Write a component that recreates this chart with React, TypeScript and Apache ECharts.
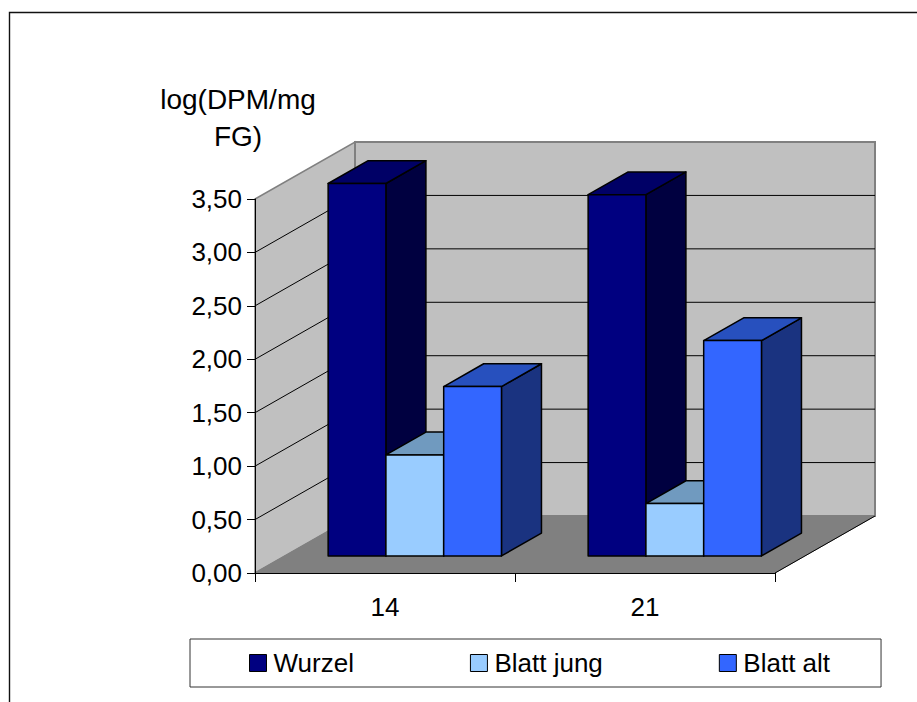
import React, { useEffect, useRef } from "react";
import * as echarts from "echarts";

const categories = ["14", "21"];
const wurzel = [3.485, 3.38];
const blattJung = [0.945, 0.49];
const blattAlt = [1.585, 2.015];
const yTicks = [0.5, 1, 1.5, 2, 2.5, 3];
const yAxisTitle = "log(DPM/mg\nFG)";

const FONT = "'Liberation Sans', Arial, sans-serif";
const FONT_SIZE = 26;
const DEPTH_X = 100;
const DEPTH_Y = -57;
const BAR_FRONT = 0.3;
const BAR_BACK = 0.7;

const barStyles = [
  { name: "Wurzel", values: wurzel, front: "#000080", top: "#000066", side: "#000040" },
  { name: "Blatt jung", values: blattJung, front: "#99CCFF", top: "#709ABF", side: "#4D6680" },
  { name: "Blatt alt", values: blattAlt, front: "#3366FF", top: "#2750BE", side: "#1A3380" },
];

const project = (p: number[], z: number) => [p[0] + DEPTH_X * z, p[1] + DEPTH_Y * z];

function wallsRender(params: any, api: any) {
  const cs = params.coordSys;
  const bl = [cs.x, cs.y + cs.height];
  const br = [cs.x + cs.width, cs.y + cs.height];
  const tl = [cs.x, cs.y];
  const tr = [cs.x + cs.width, cs.y];
  const wall = { fill: "#C0C0C0", stroke: "#808080", lineWidth: 1.5 };
  return {
    type: "group",
    children: [
      {
        type: "polygon",
        shape: { points: [bl, project(bl, 1), project(tl, 1), tl] },
        style: wall,
      },
      {
        type: "polygon",
        shape: { points: [project(bl, 1), project(br, 1), project(tr, 1), project(tl, 1)] },
        style: { ...wall, lineWidth: 2 },
      },
      {
        type: "polygon",
        shape: { points: [bl, br, project(br, 1), project(bl, 1)] },
        style: { fill: "#808080", stroke: "#808080", lineWidth: 1 },
      },
      {
        type: "line",
        shape: { x1: br[0], y1: br[1], x2: br[0] + DEPTH_X, y2: br[1] + DEPTH_Y },
        style: { stroke: "#000", lineWidth: 1 },
      },
    ],
  };
}

function gridRender(params: any, api: any) {
  const cs = params.coordSys;
  const y = api.coord([0, api.value(1)])[1];
  const a = [cs.x, y];
  const b = project(a, 1);
  const c = [b[0] + cs.width, b[1]];
  return {
    type: "polyline",
    shape: { points: [a, b, c] },
    style: { stroke: "#000", lineWidth: 1, fill: "none" },
  };
}

const makeBarRender = (seriesIndex: number) => (params: any, api: any) => {
  const cat = api.value(0);
  const val = api.value(1);
  const style = barStyles[seriesIndex];
  const band = api.size([1, 0])[0];
  const w = band / 4.5;
  const cx = api.coord([cat, 0])[0];
  const x0 = cx + (seriesIndex - 1.5) * w - 0.2;
  const x1 = x0 + w;
  const yBase = api.coord([cat, 0])[1];
  const yTop = api.coord([cat, val])[1];
  const fbl = project([x0, yBase], BAR_FRONT);
  const fbr = project([x1, yBase], BAR_FRONT);
  const ftl = project([x0, yTop], BAR_FRONT);
  const ftr = project([x1, yTop], BAR_FRONT);
  const btl = project([x0, yTop], BAR_BACK);
  const btr = project([x1, yTop], BAR_BACK);
  const bbr = project([x1, yBase], BAR_BACK);
  const edge = { stroke: "#000", lineWidth: 1.5, lineJoin: "round" };
  return {
    type: "group",
    children: [
      { type: "polygon", shape: { points: [fbr, bbr, btr, ftr] }, style: { fill: style.side, ...edge } },
      { type: "polygon", shape: { points: [ftl, ftr, btr, btl] }, style: { fill: style.top, ...edge } },
      { type: "polygon", shape: { points: [fbl, fbr, ftr, ftl] }, style: { fill: style.front, ...edge } },
    ],
  };
};

export default function App() {
  const ref = useRef<HTMLDivElement>(null);
  useEffect(() => {
    const chart = echarts.init(ref.current!, null, { renderer: "svg" });
    chart.setOption({
      animation: false,
      backgroundColor: "#FFFFFF",
      textStyle: { fontFamily: FONT },
      grid: { left: 255, top: 199, width: 520, height: 374 },
      graphic: [
        {
          type: "polyline",
          shape: { points: [[9.5, 702], [9.5, 12.5], [917, 12.5]] },
          style: { stroke: "#111", lineWidth: 1.4, fill: "none" },
        },
      ],
      legend: {
        left: 190,
        top: 639,
        padding: [11, 51, 11, 59],
        itemGap: 116,
        itemWidth: 17,
        itemHeight: 17,
        icon: "rect",
        backgroundColor: "#FFFFFF",
        borderColor: "#333",
        borderWidth: 1,
        borderRadius: 0,
        textStyle: { fontFamily: FONT, fontSize: FONT_SIZE, color: "#000", padding: [2, 0, 0, 2] },
        data: barStyles.map((s) => ({
          name: s.name,
          itemStyle: { color: s.front, borderColor: "#000", borderWidth: 1 },
        })),
      },
      xAxis: {
        type: "category",
        data: categories,
        z: 5,
        axisLine: { lineStyle: { color: "#000", width: 1 } },
        axisTick: { show: true, length: 9, alignWithLabel: false, interval: 0, lineStyle: { color: "#000" } },
        axisLabel: { margin: 21, fontFamily: FONT, fontSize: FONT_SIZE, color: "#000" },
        splitLine: { show: false },
      },
      yAxis: {
        type: "value",
        min: 0,
        max: 3.5,
        interval: 0.5,
        z: 5,
        name: yAxisTitle,
        nameLocation: "end",
        nameGap: 44,
        nameTextStyle: {
          fontFamily: FONT,
          fontSize: 28,
          color: "#000",
          align: "center",
          verticalAlign: "bottom",
          lineHeight: 37,
          padding: [0, 34, 0, 0],
        },
        axisLine: { show: true, lineStyle: { color: "#000", width: 1 } },
        axisTick: { show: true, length: 8, lineStyle: { color: "#000" } },
        axisLabel: {
          margin: 13,
          padding: [4, 0, 0, 0],
          fontFamily: FONT,
          fontSize: FONT_SIZE,
          color: "#000",
          formatter: (v: number) => v.toFixed(2).replace(".", ","),
        },
        splitLine: { show: false },
      },
      series: [
        {
          type: "custom",
          name: "walls",
          coordinateSystem: "cartesian2d",
          renderItem: wallsRender,
          data: [[0, 0]],
          encode: { x: 0, y: 1 },
          z: 1,
          silent: true,
        },
        {
          type: "custom",
          name: "grid",
          coordinateSystem: "cartesian2d",
          renderItem: gridRender,
          data: yTicks.map((t) => [0, t]),
          encode: { x: 0, y: 1 },
          z: 2,
          silent: true,
        },
        ...barStyles.map((s, i) => ({
          type: "custom",
          name: s.name,
          coordinateSystem: "cartesian2d",
          renderItem: makeBarRender(i),
          data: s.values.map((v, c) => [c, v]),
          encode: { x: 0, y: 1 },
          itemStyle: { color: s.front },
          z: 3 + i,
        })),
      ],
    });
    return () => chart.dispose();
  }, []);
  return (
    <div
      ref={ref}
      style={{ position: "fixed", left: 0, top: 0, width: 917, height: 702 }}
    />
  );
}
